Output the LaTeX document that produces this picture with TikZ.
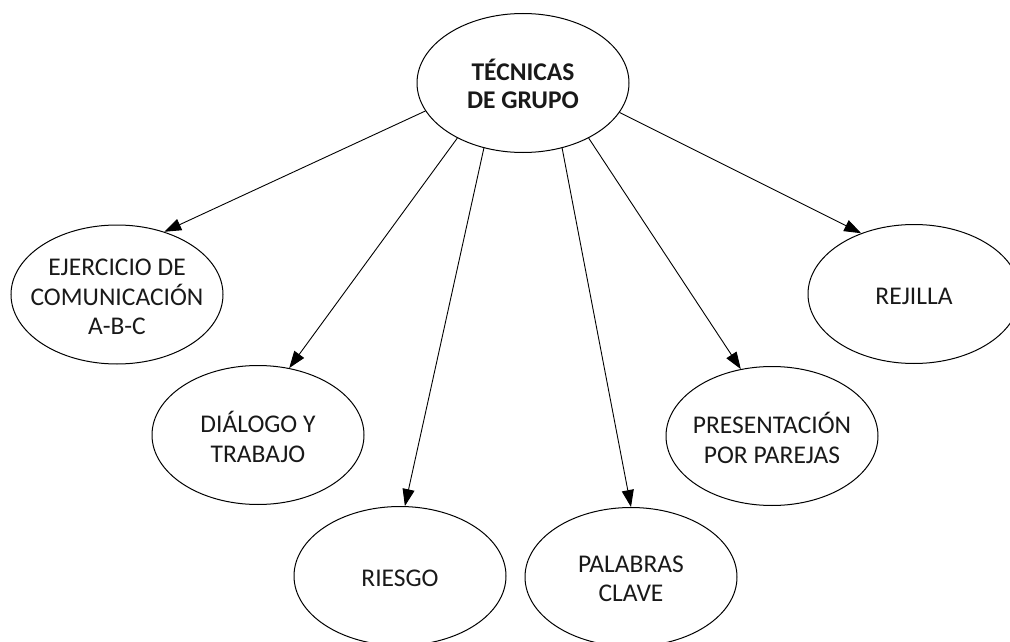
\documentclass[tikz,border=0pt]{standalone}
\usepackage{fontspec}
\setmainfont{Carlito}
\usetikzlibrary{shapes.geometric,arrows.meta}
\tikzset{
  oval/.style={ellipse,draw=black,line width=1pt,minimum width=212pt,minimum height=139pt,inner sep=0pt},
  lbl/.style={align=center,font=\fontsize{25.5}{29.5}\selectfont,text=black!90},
  conn/.style={line width=0.9pt,-{Triangle[length=17pt,width=12pt]}}
}
\begin{document}
\begin{tikzpicture}[x=1pt,y=-1pt]
\useasboundingbox (0,0) rectangle (1010,642);
\clip (0,0) rectangle (1010,642);
\node[oval] (top) at (523,83) {};
\node[lbl,font=\bfseries\fontsize{25.5}{28}\selectfont] (topt) at (523,84) {TÉCNICAS\\DE GRUPO};
\node[oval] (ej) at (117,294.5) {};
\node[lbl] (ejt) at (117,297) {EJERCICIO DE\\COMUNICACIÓN\\A-B-C};
\node[oval] (dia) at (258,435) {};
\node[lbl] (diat) at (258,437) {DIÁLOGO Y\\TRABAJO};
\node[oval] (rie) at (400,576) {};
\node[lbl] (riet) at (400,578) {RIESGO};
\node[oval] (pal) at (631,577) {};
\node[lbl] (palt) at (631,579) {PALABRAS\\CLAVE};
\node[oval] (pre) at (772,436) {};
\node[lbl] (pret) at (772,438) {PRESENTACIÓN\\POR PAREJAS};
\node[oval] (rej) at (914,294) {};
\node[lbl] (rejt) at (914,296) {REJILLA};
\draw[conn] (top.196.9) -- (ej.53);
\draw[conn] (top.220.2) -- (dia.65.7);
\draw[conn] (top.239.9) -- (rie.86);
\draw[conn] (top.301) -- (pal.90.8);
\draw[conn] (top.320.7) -- (pre.115.3);
\draw[conn] (top.343.3) -- (rej.131.6);
\end{tikzpicture}
\end{document}
